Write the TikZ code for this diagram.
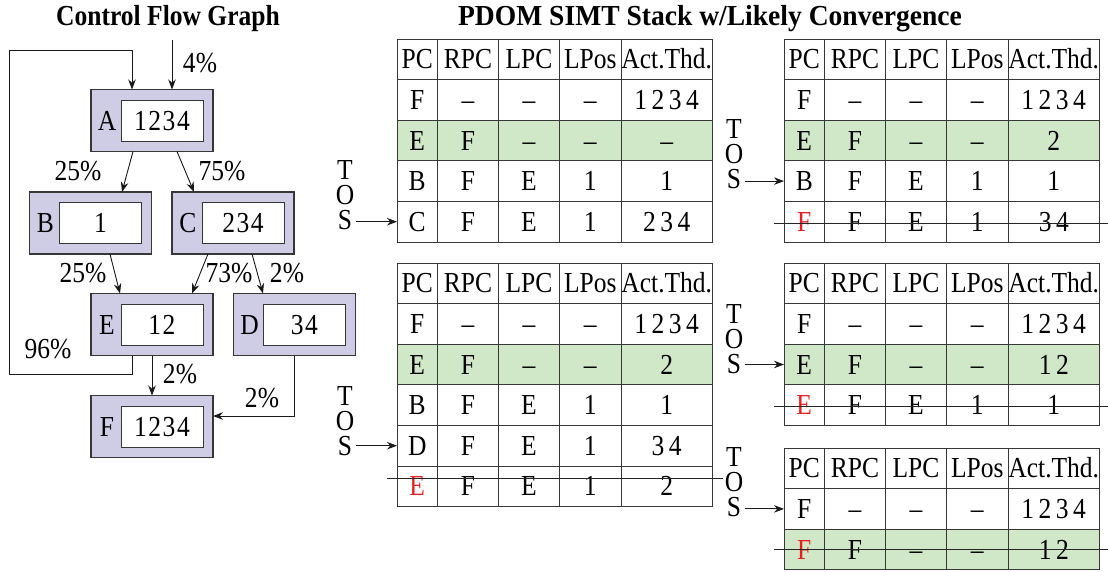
\documentclass[tikz,border=0pt]{standalone}
\usepackage{fontspec}
\setmainfont{Liberation Serif}[FakeStretch=0.88]
\usetikzlibrary{arrows.meta}
\definecolor{lav}{RGB}{207,205,230}
\definecolor{rowgreen}{RGB}{208,231,200}
\definecolor{edgegray}{RGB}{55,55,55}
\definecolor{strikered}{RGB}{235,30,30}
\newcommand\bigfont{\fontsize{29}{30}\selectfont}
\newcommand\thdgap{\kern4.5pt}
\newcommand\cfggap{\kern1.5pt}
\newcommand\dsh{\textendash}
\newcommand\rd[1]{\textcolor{strikered}{#1}}
% one stack row: name, x-left, y-top, style, PC, RPC, LPC, LPos, Act
\newcommand\srow[9]{%
  \node[cell,#4,minimum width=40.5pt] (#1-1) at ({#2+20.25},{#3+20.3}) {#5};
  \node[cell,#4,minimum width=61pt]   (#1-2) at ({#2+71},{#3+20.3}) {#6};
  \node[cell,#4,minimum width=61pt]   (#1-3) at ({#2+132},{#3+20.3}) {#7};
  \node[cell,#4,minimum width=61.5pt] (#1-4) at ({#2+193.25},{#3+20.3}) {#8};
  \node[cell,#4,minimum width=91.5pt] (#1-5) at ({#2+269.75},{#3+20.3}) {#9};
}
% T O S label: name, x, y of S centre
\newcommand\tos[3]{%
  \node[lbl] (#1-T) at (#2,{#3-50}) {T};
  \node[lbl] (#1-O) at (#2,{#3-25}) {O};
  \node[lbl] (#1-S) at (#2,#3) {S};
}
\begin{document}
\begin{tikzpicture}[x=1pt,y=-1pt,
  cell/.style={draw=edgegray,line width=0.9pt,inner sep=0pt,outer sep=0pt,
    minimum height=40.6pt,text height=19pt,text depth=0pt,font=\bigfont},
  hdr/.style={},
  plain/.style={},
  green/.style={fill=rowgreen},
  lbl/.style={inner sep=0pt,text height=19pt,text depth=0pt,font=\bigfont},
  pct/.style={inner sep=0pt,anchor=base,font=\bigfont},
  title/.style={inner sep=0pt,anchor=base,font=\bigfont\bfseries},
  outer/.style={draw=edgegray,line width=1.2pt,fill=lav,minimum width=122pt,
    minimum height=62pt,inner sep=0pt,outer sep=0pt},
  inner/.style={draw=edgegray,line width=1pt,fill=white,minimum width=82pt,
    minimum height=41pt,inner sep=0pt,outer sep=0pt,text height=19pt,
    text depth=0pt,font=\bigfont},
  arr/.style={-{Stealth[length=10pt,width=7.5pt]},line width=0.9pt,draw=black!90},
  strike/.style={line width=0.9pt,draw=black!85}]
\useasboundingbox (0,0) rectangle (1108,571);

% titles
\node[title] (t-cfg) at (168,25) {Control Flow Graph};
\node[title] (t-stk) at (710,25) {\scalebox{1.08}[1]{PDOM SIMT Stack w/Likely Convergence}};

% CFG blocks
\node[outer] (A) at (152,120.5) {};
\node[outer] (B) at (90.5,223) {};
\node[outer] (C) at (233,223) {};
\node[outer] (E) at (152,324.5) {};
\node[outer] (D) at (294.5,324.5) {};
\node[outer] (F) at (152,426.5) {};
\foreach \b/\t in {A/1\cfggap2\cfggap3\cfggap4,B/1,C/2\cfggap3\cfggap4,E/1\cfggap2,D/3\cfggap4,F/1\cfggap2\cfggap3\cfggap4}{
  \node[inner] (\b-i) at ([xshift=-51pt]\b.east) {\t};
  \node[lbl] (\b-l) at ([xshift=16pt]\b.west) {\b};
}

% CFG edges
\coordinate (entry) at (172,40);
\draw[arr] (entry) -- ([xshift=20pt]A.north);
\node[pct] (p-entry) at (200,72) {4\%};

\coordinate (loopc) at (9,50);
\draw[arr] ([xshift=-20pt]E.south) -- ++(0,19) -| (loopc) -| ([xshift=-20pt]A.north);
\node[pct] (p-loop) at (48,358) {96\%};

\draw[arr] ([xshift=-19pt]A.south) -- ([xshift=31.5pt]B.north);
\node[pct] (p-ab) at (78,180) {25\%};
\draw[arr] ([xshift=25pt]A.south) -- ([xshift=-39pt]C.north);
\node[pct] (p-ac) at (222,180) {75\%};
\draw[arr] ([xshift=19.5pt]B.south) -- ([xshift=-32pt]E.north);
\node[pct] (p-be) at (83,282) {25\%};
\draw[arr] ([xshift=-25pt]C.south) -- ([xshift=40pt]E.north);
\node[pct] (p-ce) at (229,282) {73\%};
\draw[arr] ([xshift=19pt]C.south) -- ([xshift=-31.5pt]D.north);
\node[pct] (p-cd) at (287,282) {2\%};
\draw[arr] (E.south) -- (F.north);
\node[pct] (p-ef) at (180,383) {2\%};
\draw[arr] (D.south) |- ([yshift=10.5pt]F.east);
\node[pct] (p-df) at (262,407) {2\%};

% Table 1
\srow{t1r0}{397}{39}{hdr}{PC}{RPC}{LPC}{LPos}{Act.Thd.}
\srow{t1r1}{397}{79.6}{plain}{F}{\dsh}{\dsh}{\dsh}{1\thdgap2\thdgap3\thdgap4}
\srow{t1r2}{397}{120.2}{green}{E}{F}{\dsh}{\dsh}{\dsh}
\srow{t1r3}{397}{160.8}{plain}{B}{F}{E}{1}{1}
\srow{t1r4}{397}{201.4}{plain}{C}{F}{E}{1}{2\thdgap3\thdgap4}
\tos{tos1}{345}{220}
\draw[arr] ([xshift=4pt]tos1-S.east |- t1r4-1.west) -- (t1r4-1.west);

% Table 2
\srow{t2r0}{784}{39}{hdr}{PC}{RPC}{LPC}{LPos}{Act.Thd.}
\srow{t2r1}{784}{79.6}{plain}{F}{\dsh}{\dsh}{\dsh}{1\thdgap2\thdgap3\thdgap4}
\srow{t2r2}{784}{120.2}{green}{E}{F}{\dsh}{\dsh}{2}
\srow{t2r3}{784}{160.8}{plain}{B}{F}{E}{1}{1}
\srow{t2r4}{784}{201.4}{plain}{\rd{F}}{F}{E}{1}{3\thdgap4}
\tos{tos2}{734}{179}
\draw[arr] ([xshift=4pt]tos2-S.east |- t2r3-1.west) -- (t2r3-1.west);
\coordinate (s2a) at (774,223);
\coordinate (s2b) at (1108,223);
\draw[strike] (s2a) -- (s2b);

% Table 3
\srow{t3r0}{397}{263}{hdr}{PC}{RPC}{LPC}{LPos}{Act.Thd.}
\srow{t3r1}{397}{303.6}{plain}{F}{\dsh}{\dsh}{\dsh}{1\thdgap2\thdgap3\thdgap4}
\srow{t3r2}{397}{344.2}{green}{E}{F}{\dsh}{\dsh}{2}
\srow{t3r3}{397}{384.8}{plain}{B}{F}{E}{1}{1}
\srow{t3r4}{397}{425.4}{plain}{D}{F}{E}{1}{3\thdgap4}
\srow{t3r5}{397}{466}{plain}{\rd{E}}{F}{E}{1}{2}
\tos{tos3}{345}{446}
\draw[arr] ([xshift=4pt]tos3-S.east |- t3r4-1.west) -- (t3r4-1.west);
\coordinate (s3a) at (387,478);
\coordinate (s3b) at (723,478);
\draw[strike] (s3a) -- (s3b);

% Table 4
\srow{t4r0}{784}{263}{hdr}{PC}{RPC}{LPC}{LPos}{Act.Thd.}
\srow{t4r1}{784}{303.6}{plain}{F}{\dsh}{\dsh}{\dsh}{1\thdgap2\thdgap3\thdgap4}
\srow{t4r2}{784}{344.2}{green}{E}{F}{\dsh}{\dsh}{1\thdgap2}
\srow{t4r3}{784}{384.8}{plain}{\rd{E}}{F}{E}{1}{1}
\tos{tos4}{734}{364}
\draw[arr] ([xshift=4pt]tos4-S.east |- t4r2-1.west) -- (t4r2-1.west);
\coordinate (s4a) at (774,406);
\coordinate (s4b) at (1108,406);
\draw[strike] (s4a) -- (s4b);

% Table 5
\srow{t5r0}{784}{448}{hdr}{PC}{RPC}{LPC}{LPos}{Act.Thd.}
\srow{t5r1}{784}{488.6}{plain}{F}{\dsh}{\dsh}{\dsh}{1\thdgap2\thdgap3\thdgap4}
\srow{t5r2}{784}{529.2}{green}{\rd{F}}{F}{\dsh}{\dsh}{1\thdgap2}
\tos{tos5}{734}{507}
\draw[arr] ([xshift=4pt]tos5-S.east |- t5r1-1.west) -- (t5r1-1.west);
\coordinate (s5a) at (774,549);
\coordinate (s5b) at (1108,549);
\draw[strike] (s5a) -- (s5b);
\end{tikzpicture}
\end{document}
